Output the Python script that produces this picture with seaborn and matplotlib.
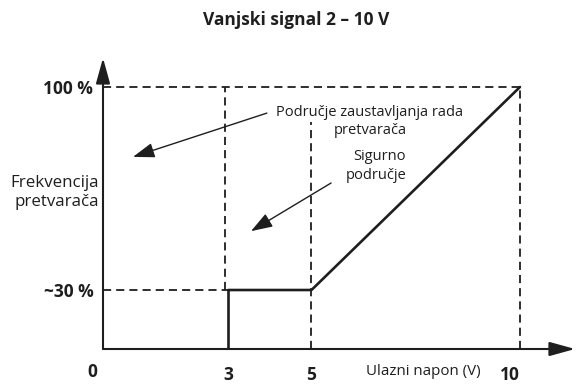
import matplotlib
matplotlib.use("Agg")
import matplotlib.pyplot as plt
import matplotlib.transforms as mtransforms
import seaborn as sns
import pandas as pd

# Operating curve of the drive for an external 2-10 V signal
voltage = [3, 5, 10]            # input voltage (V)
frequency = [30, 30, 100]       # drive frequency (%)

x_ticks = [3, 5, 10]
x_tick_labels = ["3", "5", "10"]
y_ticks = [100, 30]
y_tick_labels = ["100 %", "~30 %"]

title = "Vanjski signal 2 – 10 V"
x_label = "Ulazni napon (V)"
y_label = "Frekvencija\npretvarača"
stop_zone = "Područje zaustavljanja rada\npretvarača"
safe_zone = "Sigurno\npodručje"

sns.set_theme(style="white")
plt.rcParams["font.family"] = ["Open Sans", "DejaVu Sans"]

ink = "#1e1e1e"
W, H = 581, 385
fig = plt.figure(figsize=(W / 100, H / 100), dpi=100)
ax = fig.add_axes([103 / W, 1 - 349 / H, (575 - 103) / W, (349 - 58) / H])

x_min, x_max = 0, 11.32
y_min, y_max = 9.66, 110
ax.set_xlim(x_min, x_max)
ax.set_ylim(y_min, y_max)

df = pd.DataFrame({"napon": voltage, "frekvencija": frequency})

# dashed guide lines
dash = dict(color=ink, lw=1.3, linestyle=(0, (4.5, 2.8)), clip_on=False)
ax.hlines(frequency[-1], x_min, voltage[-1], **dash)
ax.hlines(frequency[0], x_min, voltage[0], **dash)
ax.vlines(voltage[0] - 0.07, frequency[0], frequency[-1], **dash)
ax.vlines(voltage[1], y_min, 88, **dash)
ax.vlines(voltage[-1], y_min, frequency[-1], **dash)

# solid operating curve
ax.vlines(voltage[0], y_min, frequency[0], color=ink, lw=1.9)
sns.lineplot(data=df, x="napon", y="frekvencija", ax=ax, color=ink, lw=1.9,
             legend=False)

# axes with arrow heads
for spine in ax.spines.values():
    spine.set_visible(False)
axis_arrow = dict(arrowstyle="-|>,head_length=1.3,head_width=0.36",
                  color=ink, lw=1.5, shrinkA=0, shrinkB=0)
ax.annotate("", xy=(x_max, y_min), xytext=(x_min, y_min),
            arrowprops=axis_arrow, annotation_clip=False)
ax.annotate("", xy=(x_min, y_max), xytext=(x_min, y_min),
            arrowprops=axis_arrow, annotation_clip=False)

# ticks
ax.set_xticks(x_ticks, x_tick_labels)
ax.set_yticks(y_ticks, y_tick_labels)
ax.tick_params(axis="both", length=0, labelsize=12.5, colors=ink)
ax.tick_params(axis="x", pad=12)
ax.tick_params(axis="y", pad=7)
for lbl in ax.get_xticklabels() + ax.get_yticklabels():
    lbl.set_fontweight("bold")
last = ax.get_xticklabels()[-1]
last.set_transform(last.get_transform()
                   + mtransforms.ScaledTranslation(-10 / 100, 0, fig.dpi_scale_trans))
ax.set_xlabel("")
ax.set_ylabel("")
ax.text(-0.26, 1.9, "0", ha="center", va="center", fontsize=12.5,
        fontweight="bold", color=ink, clip_on=False)

ax.text(7.69, 1.9, x_label, ha="center", va="center", fontsize=10.9,
        color=ink, clip_on=False)
ax.text(-0.1, 63.6, y_label, ha="right", va="center", fontsize=12.2,
        color=ink, linespacing=1.2, clip_on=False)

# region notes with pointer arrows
ax.text(6.4, 88.1, stop_zone, ha="center", va="center", fontsize=10.5,
        color=ink, linespacing=1.3)
ax.text(7.27, 72.8, safe_zone, ha="right", va="center", fontsize=10.5,
        color=ink, linespacing=1.3)
pointer = dict(arrowstyle="-|>,head_length=1.1,head_width=0.38",
               color=ink, lw=1.0, shrinkA=0, shrinkB=0)
ax.annotate("", xy=(0.72, 75.9), xytext=(3.93, 91.0), arrowprops=pointer)
ax.annotate("", xy=(3.55, 50.3), xytext=(5.47, 66.9), arrowprops=pointer)

fig.text(296 / W, 1 - 20 / H, title, ha="center", va="center",
         fontsize=12.5, fontweight="bold", color=ink)

fig.savefig("out.png", dpi=100)
